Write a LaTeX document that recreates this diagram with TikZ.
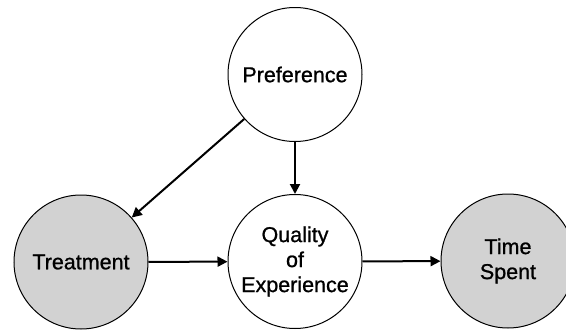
\documentclass[tikz,border=0pt]{standalone}
\usepackage{fontspec}
\setmainfont{Liberation Sans}
\newfontfamily\labelfont[FakeBold=0.9]{Liberation Sans}
\usetikzlibrary{arrows.meta}

\tikzset{
  var/.style={circle, draw, line width=1pt, minimum size=134pt, inner sep=0pt,
    align=center, font=\labelfont\fontsize{21.5}{25}\selectfont},
  obs/.style={var, fill=gray!35},
  edge/.style={line width=2pt, -{Triangle[length=10pt,width=10pt]}}
}

\begin{document}
\begin{tikzpicture}[x=1pt,y=1pt]
\useasboundingbox (0,0) rectangle (566,-330);
\node[var] (pref) at (295,-74.5) {Preference};
\node[obs] (treat) at (81,-262) {Treatment};
\node[var] (qual) at (295,-261.5) {Quality\\of\\Experience};
\node[obs] (time) at (508,-261) {Time\\Spent};
\draw[edge] (pref) -- (treat);
\draw[edge] (pref) -- (qual);
\draw[edge] (treat) -- (qual);
\draw[edge] (qual) -- (time);
\end{tikzpicture}
\end{document}
